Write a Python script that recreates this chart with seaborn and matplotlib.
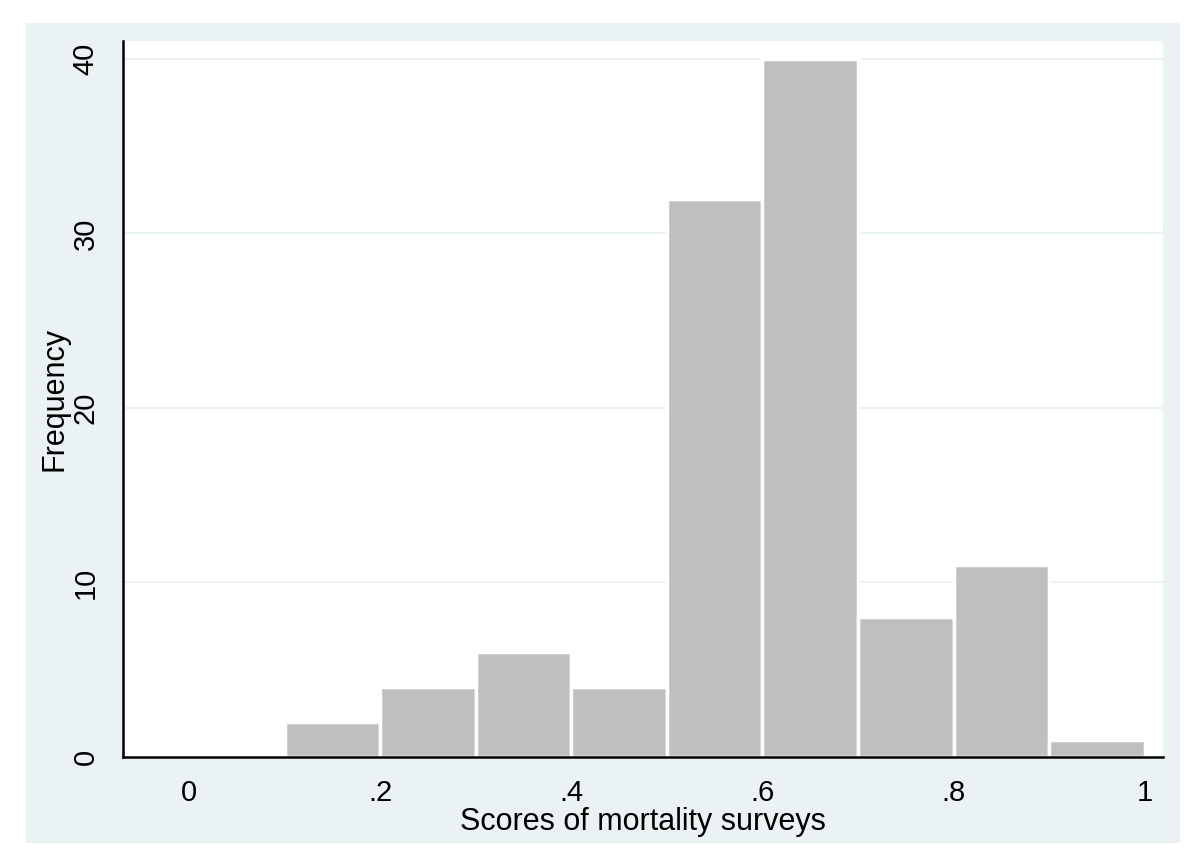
import matplotlib
matplotlib.use('Agg')
import matplotlib.pyplot as plt
import matplotlib.patches as patches
import seaborn as sns

# histogram bins (width .1) and frequencies
bin_edges = [0.1, 0.2, 0.3, 0.4, 0.5, 0.6, 0.7, 0.8, 0.9, 1.0]
bin_mids = [0.15, 0.25, 0.35, 0.45, 0.55, 0.65, 0.75, 0.85, 0.95]
counts = [2, 4, 6, 4, 32, 40, 8, 11, 1]

x_ticks = [0, 0.2, 0.4, 0.6, 0.8, 1.0]
x_tick_labels = ['0', '.2', '.4', '.6', '.8', '1']
y_ticks = [0, 10, 20, 30, 40]

sns.set_style('white')
plt.rcParams['font.family'] = ['Liberation Sans', 'DejaVu Sans']

W, H = 1200, 859
fig = plt.figure(figsize=(W / 100, H / 100), dpi=100, facecolor='white')

# stata-like light blue graph region, kept behind the axes
fig.patches.append(patches.Rectangle((26 / W, 1 - 843 / H), (1180 - 26) / W, (843 - 23) / H,
                                     transform=fig.transFigure, facecolor='#EAF2F3',
                                     edgecolor='none', zorder=-10))

ax = fig.add_axes([123 / W, 1 - 757 / H, (1163 - 123) / W, (757 - 41) / H])
ax.set_facecolor('white')

sns.histplot(x=bin_mids, weights=counts, bins=bin_edges, ax=ax,
             color='#BFBFBF', alpha=1, edgecolor='white', linewidth=2.5)

for y in y_ticks[1:]:
    ax.axhline(y, color='#EAF2F3', linewidth=1.5, zorder=0)

ax.set_xlim(-0.069, 1.019)
ax.set_ylim(0, 41.03)
ax.set_xticks(x_ticks)
ax.set_xticklabels(x_tick_labels)
ax.set_yticks(y_ticks)
ax.set_yticklabels([str(v) for v in y_ticks], rotation=90, va='center')

for side in ['top', 'right']:
    ax.spines[side].set_visible(False)
for side in ['left', 'bottom']:
    ax.spines[side].set_linewidth(1.8)
    ax.spines[side].set_color('black')

ax.tick_params(axis='both', direction='out', length=9, width=1.5, color='black',
               labelsize=21, labelcolor='black')
ax.tick_params(axis='x', pad=7)
ax.tick_params(axis='y', pad=8)

ax.set_xlabel('Scores of mortality surveys', fontsize=22, labelpad=0, color='black')
ax.set_ylabel('Frequency', fontsize=22, labelpad=1, color='black')

fig.savefig('out.png', dpi=100, facecolor='white')
